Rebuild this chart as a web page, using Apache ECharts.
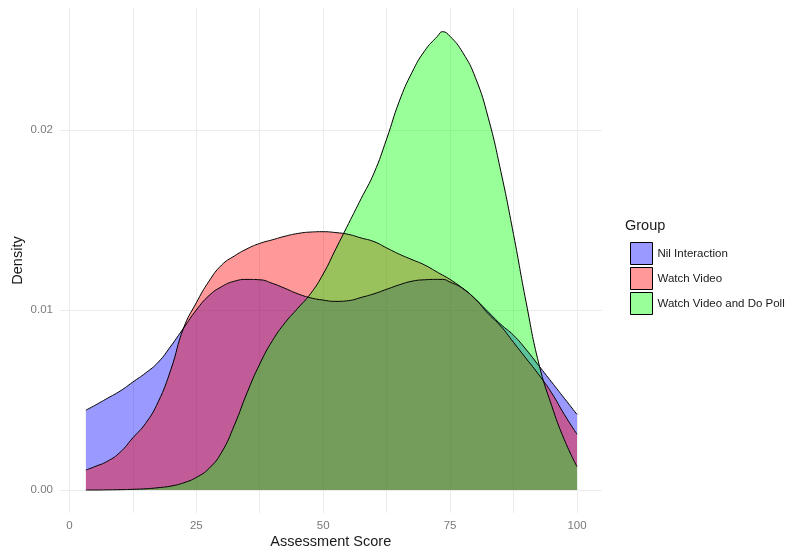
<!DOCTYPE html>
<html>
<head>
<meta charset="utf-8">
<script src="https://cdn.jsdelivr.net/npm/echarts@6/dist/echarts.min.js"></script>
<style>
html,body{margin:0;padding:0;background:#fff;}
#chart{width:793px;height:550px;}
</style>
</head>
<body>
<div id="chart"></div>
<script>
// ---- data ----
const groupNames = ['Nil Interaction', 'Watch Video', 'Watch Video and Do Poll'];

// score values at which densities were read
const scoreX = [3.25, 5, 7.5, 10, 12.5, 15, 17.5, 20, 22.5, 25, 27.5, 30, 32.5, 35, 37.5, 40, 42.5, 45, 47.5, 50,
                52.5, 55, 57.5, 60, 62.5, 65, 67.5, 70, 72.5, 73.5, 75, 77.5, 80, 82.5, 85, 87.5, 90, 92.5, 95, 97.5, 100];

const nilY = [0.00444, 0.0047, 0.0051, 0.0055, 0.0060, 0.0065, 0.0071, 0.0080, 0.0090, 0.0100, 0.0108, 0.0113, 0.0116, 0.0117, 0.01168, 0.01148, 0.0112, 0.0109, 0.01068, 0.01055,
              0.01048, 0.01052, 0.0107, 0.0109, 0.01115, 0.0114, 0.0116, 0.01168, 0.0117, 0.0117, 0.01155, 0.0112, 0.0106, 0.0099, 0.0092, 0.0086, 0.0078, 0.0069, 0.0060, 0.0051, 0.0042];

const videoY = [0.00111, 0.0013, 0.0016, 0.0021, 0.0029, 0.0037, 0.0049, 0.0067, 0.0090, 0.0104, 0.0116, 0.0125, 0.0130, 0.0134, 0.0137, 0.0139, 0.0141, 0.01425, 0.01433, 0.01435,
                0.0143, 0.0142, 0.0140, 0.0138, 0.01345, 0.0131, 0.0128, 0.0125, 0.0121, 0.01194, 0.0117, 0.0112, 0.0106, 0.0098, 0.0091, 0.0082, 0.0073, 0.0064, 0.0054, 0.0042, 0.0031];

const pollY = [0.0, 0.0, 0.00001, 0.00002, 0.00004, 0.00007, 0.00013, 0.00022, 0.0004, 0.0007, 0.0012, 0.0021, 0.0036, 0.0054, 0.0070, 0.0083, 0.0093, 0.0101, 0.0109, 0.0120,
               0.0134, 0.0148, 0.0162, 0.0176, 0.0195, 0.0216, 0.0232, 0.0244, 0.0252, 0.02546, 0.0252, 0.0243, 0.0229, 0.0207, 0.0177, 0.0142, 0.0104, 0.0070, 0.0047, 0.0028, 0.0013];

const xTickLabels = [0, 25, 50, 75, 100];
const yTickLabels = [0, 0.01, 0.02];
const xGrid = [0, 12.5, 25, 37.5, 50, 62.5, 75, 87.5, 100];
const yGrid = [0, 0.005, 0.01, 0.015, 0.02, 0.025];

// ---- chart ----
const fills = ['rgba(0,0,255,0.4)', 'rgba(255,0,0,0.4)', 'rgba(0,255,0,0.4)'];
const ys = [nilY, videoY, pollY];

const pairs = (a, b) => a.map((v, i) => [v, b[i]]);
const FONT = '"Liberation Sans", Arial, sans-serif';

const densitySeries = groupNames.map((name, i) => ({
  name: name,
  type: 'line',
  data: pairs(scoreX, ys[i]),
  smooth: 0.5,
  showSymbol: false,
  symbol: 'none',
  z: 2,
  itemStyle: { color: fills[i] },
  lineStyle: { color: '#000', width: 1 },
  areaStyle: { color: fills[i], opacity: 1 },
  emphasis: { disabled: true },
  silent: true
}));

const gridSeries = {
  type: 'scatter',
  data: [],
  z: 0,
  silent: true,
  markLine: {
    z: 0,
    silent: true,
    symbol: ['none', 'none'],
    label: { show: false },
    animation: false,
    lineStyle: { color: '#ebebeb', width: 1, type: 'solid' },
    data: xGrid.map(v => ({ xAxis: v })).concat(yGrid.map(v => ({ yAxis: v })))
  }
};

const chart = echarts.init(document.getElementById('chart'), null, { renderer: 'canvas' });
chart.setOption({
  animation: false,
  backgroundColor: '#fff',
  textStyle: { fontFamily: FONT },
  title: {
    text: 'Group',
    left: 620,
    top: 213,
    textStyle: { fontFamily: FONT, fontSize: 14.5, fontWeight: 'normal', color: '#1a1a1a' }
  },
  legend: {
    orient: 'vertical',
    left: 625,
    top: 237,
    itemWidth: 22,
    itemHeight: 22,
    itemGap: 2,
    selectedMode: false,
    textStyle: { fontFamily: FONT, fontSize: 11.5, color: '#1a1a1a' },
    data: groupNames.map((n, i) => ({
      name: n,
      icon: 'rect',
      itemStyle: { color: fills[i], borderColor: '#000', borderWidth: 1 }
    }))
  },
  grid: { left: 60, right: 191.4, top: 8, bottom: 37, containLabel: false, outerBoundsMode: 'none' },
  xAxis: {
    type: 'value',
    min: -1.85,
    max: 104.85,
    name: 'Assessment Score',
    nameLocation: 'middle',
    nameGap: 21,
    nameMoveOverlap: false,
    nameTextStyle: { fontFamily: FONT, fontSize: 14.5, color: '#1a1a1a' },
    axisLine: { show: false },
    axisTick: { show: false, customValues: xTickLabels },
    splitLine: { show: false },
    axisLabel: {
      customValues: xTickLabels,
      margin: 7,
      fontFamily: FONT,
      fontSize: 11.5,
      color: '#7a7a7a',
      formatter: v => String(v)
    }
  },
  yAxis: {
    type: 'value',
    min: -0.001275,
    max: 0.026775,
    name: 'Density',
    nameLocation: 'middle',
    nameGap: 35,
    nameRotate: 90,
    nameMoveOverlap: false,
    nameTextStyle: { fontFamily: FONT, fontSize: 14.5, color: '#1a1a1a' },
    axisLine: { show: false },
    axisTick: { show: false, customValues: yTickLabels },
    splitLine: { show: false },
    axisLabel: {
      customValues: yTickLabels,
      margin: 7,
      fontFamily: FONT,
      fontSize: 11.5,
      color: '#7a7a7a',
      formatter: v => v.toFixed(2)
    }
  },
  series: [gridSeries].concat(densitySeries)
});
</script>
</body>
</html>
